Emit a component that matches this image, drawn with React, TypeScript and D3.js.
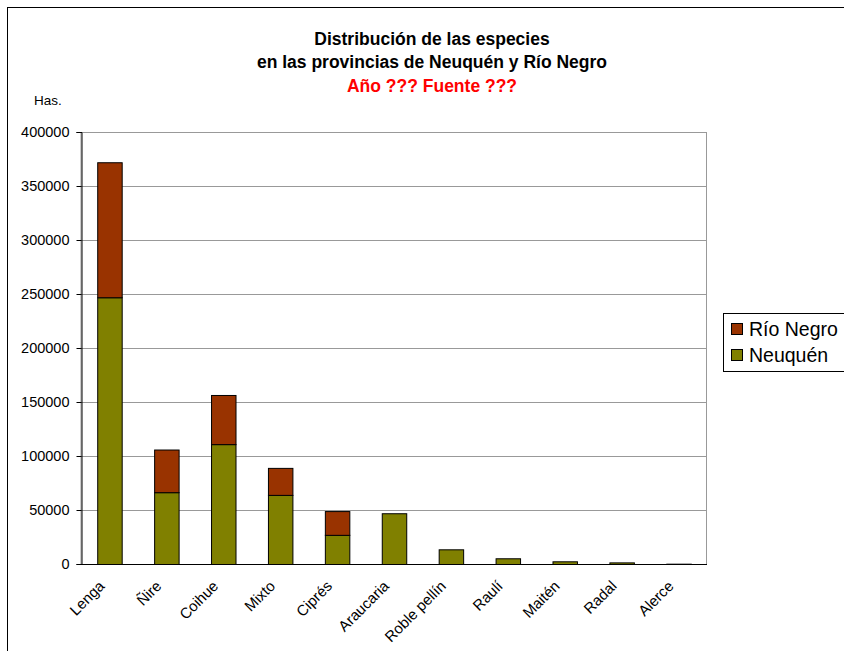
import { useRef, useEffect } from "react";
import * as d3 from "d3";

const species = [
  "Lenga",
  "Ñire",
  "Coihue",
  "Mixto",
  "Ciprés",
  "Araucaria",
  "Roble pellín",
  "Raulí",
  "Maitén",
  "Radal",
  "Alerce",
];
const neuquen = [247000, 66500, 111000, 64000, 27000, 47000, 13600, 5300, 2500, 1500, 300];
const rioNegro = [125000, 39500, 45500, 25000, 22000, 0, 0, 0, 0, 0, 0];
const yTicks = [0, 50000, 100000, 150000, 200000, 250000, 300000, 350000, 400000];
const seriesNames = ["Río Negro", "Neuquén"];
const seriesColors = ["#993300", "#808000"];

export default function App() {
  const svgRef = useRef<SVGSVGElement>(null);

  useEffect(() => {
    if (!svgRef.current) return;
    const svg = d3.select(svgRef.current);
    svg.selectAll("*").remove();

    const width = 844;
    const height = 651;
    const margin = { top: 132, right: 137, bottom: 87, left: 81 };
    const innerWidth = width - margin.left - margin.right;
    const innerHeight = height - margin.top - margin.bottom;
    const font = "Liberation Sans, Arial, sans-serif";

    // outer chart frame
    svg
      .append("rect")
      .attr("x", 7.5)
      .attr("y", 7.5)
      .attr("width", width + 20)
      .attr("height", height + 20)
      .attr("fill", "#fff")
      .attr("stroke", "#000");

    const g = svg
      .append("g")
      .attr("transform", `translate(${margin.left},${margin.top})`);

    const x = d3.scaleBand().domain(species).range([0, innerWidth]).paddingInner(0.57).paddingOuter(0.285);
    const y = d3.scaleLinear().domain([0, 400000]).range([innerHeight, 0]);

    // plot area border
    g.append("rect")
      .attr("x", 0)
      .attr("y", 0.5)
      .attr("width", innerWidth - 0.5)
      .attr("height", innerHeight)
      .attr("fill", "none")
      .attr("stroke", "#999");

    // grid lines
    g.append("g")
      .selectAll("line")
      .data(yTicks.slice(1))
      .join("line")
      .attr("x1", 0)
      .attr("x2", innerWidth)
      .attr("y1", (d) => Math.round(y(d)) + 0.5)
      .attr("y2", (d) => Math.round(y(d)) + 0.5)
      .attr("stroke", "#999");

    // stacked bars
    const rows = species.map((s, i) => ({ species: s, "Neuquén": neuquen[i], "Río Negro": rioNegro[i] }));
    const stack = d3.stack<any>().keys(["Neuquén", "Río Negro"])(rows);

    stack.forEach((layer) => {
      const color = seriesColors[seriesNames.indexOf(layer.key)];
      g.append("g")
        .selectAll("rect")
        .data(layer.filter((d) => d[1] - d[0] > 0))
        .join("rect")
        .attr("x", (d) => (x(d.data.species) as number) + 0.5)
        .attr("y", (d) => y(d[1]) + 0.5)
        .attr("width", x.bandwidth())
        .attr("height", (d) => y(d[0]) - y(d[1]))
        .attr("fill", color)
        .attr("stroke", "#000")
        .attr("stroke-width", 1);
    });

    // y axis
    const yAxis = g
      .append("g")
      .attr("transform", "translate(0.5,0)")
      .call(d3.axisLeft(y).tickValues(yTicks).tickSize(5).tickPadding(7).tickFormat(d3.format("d")));
    yAxis.select(".domain").attr("stroke", "#000");
    yAxis.selectAll(".tick line").attr("stroke", "#000");
    yAxis
      .selectAll("text")
      .attr("font-family", font)
      .attr("font-size", "14.5px")
      .attr("fill", "#000");

    // x axis baseline
    g.append("line")
      .attr("x1", 0)
      .attr("x2", innerWidth)
      .attr("y1", innerHeight + 0.5)
      .attr("y2", innerHeight + 0.5)
      .attr("stroke", "#000");

    // category labels
    g.append("g")
      .selectAll("text")
      .data(species)
      .join("text")
      .attr(
        "transform",
        (d) => `translate(${(x(d) as number) + x.bandwidth() / 2 - 4},${innerHeight + 23}) rotate(-45)`
      )
      .attr("text-anchor", "end")
      .attr("font-family", font)
      .attr("font-size", "15px")
      .attr("fill", "#000")
      .text((d) => d);

    // titles
    const titles = [
      { t: "Distribución de las especies", y: 45, c: "#000" },
      { t: "en las provincias de Neuquén y Río Negro", y: 68, c: "#000" },
      { t: "Año ??? Fuente ???", y: 92, c: "#ff0000" },
    ];
    svg
      .append("g")
      .selectAll("text")
      .data(titles)
      .join("text")
      .attr("x", 432)
      .attr("y", (d) => d.y)
      .attr("text-anchor", "middle")
      .attr("font-family", font)
      .attr("font-size", "17.5px")
      .attr("font-weight", "bold")
      .attr("fill", (d) => d.c)
      .text((d) => d.t);

    svg
      .append("text")
      .attr("x", 34)
      .attr("y", 105)
      .attr("font-family", font)
      .attr("font-size", "13.5px")
      .attr("fill", "#000")
      .text("Has.");

    // legend
    const legend = svg.append("g").attr("transform", "translate(723,313)");
    legend
      .append("rect")
      .attr("x", 0.5)
      .attr("y", 0.5)
      .attr("width", 130)
      .attr("height", 58)
      .attr("fill", "#fff")
      .attr("stroke", "#000");
    const items = legend
      .selectAll("g.item")
      .data(seriesNames)
      .join("g")
      .attr("class", "item")
      .attr("transform", (_, i) => `translate(0,${i * 26})`);
    items
      .append("rect")
      .attr("x", 8.5)
      .attr("y", 10.5)
      .attr("width", 11)
      .attr("height", 11)
      .attr("fill", (_, i) => seriesColors[i])
      .attr("stroke", "#000");
    items
      .append("text")
      .attr("x", 26)
      .attr("y", 23)
      .attr("font-family", font)
      .attr("font-size", "19.5px")
      .attr("fill", "#000")
      .text((d) => d);
  }, []);

  return (
    <svg
      ref={svgRef}
      width={844}
      height={651}
      style={{ position: "absolute", left: 0, top: 0, background: "#fff" }}
    />
  );
}
